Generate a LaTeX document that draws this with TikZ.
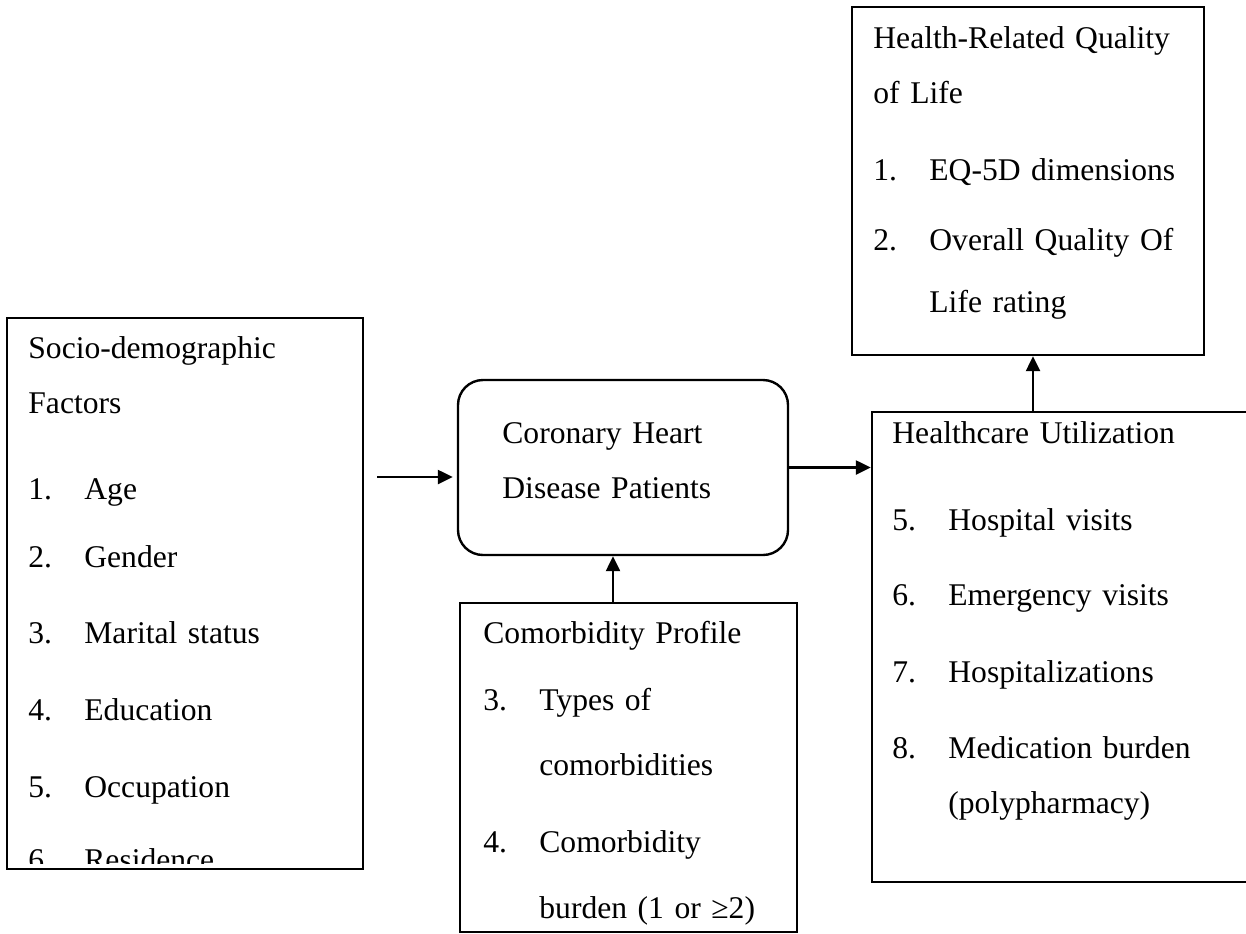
\documentclass[tikz,border=0pt]{standalone}
\usepackage{fontspec}
\setmainfont{Liberation Serif}
\usetikzlibrary{arrows.meta,positioning}
\newcommand{\itemno}[1]{\makebox[28pt][l]{#1}}

\begin{document}
\begin{tikzpicture}[
    x=0.5pt, y=-0.5pt,
    font=\fontsize{15.8}{27.5}\selectfont,
    box/.style={rectangle, draw=black, line width=1.2pt, inner sep=0pt},
    roundbox/.style={box, rounded corners=12.5pt},
    boxtext/.style={anchor=base west, inner sep=0pt, text width=#1, align=left},
    arrow/.style={line width=1.2pt, -{Triangle[length=7.5pt, width=7pt]}}
  ]
  \useasboundingbox (0,0) rectangle (1246,933);

  % Boxes
  \node (socio) [box, minimum width=178pt, minimum height=275.5pt] at (185,593.5) {};
  \node (chd) [roundbox, minimum width=165pt, minimum height=87.5pt] at (623,467.5) {};
  \node (como) [box, minimum width=168.5pt, minimum height=164.5pt] at (628.5,767.5) {};
  \node (health) [box, minimum width=194pt, minimum height=235pt] at (1066,647) {};
  \node (hrql) [box, minimum width=176pt, minimum height=174pt] at (1028,181) {};

  % Texts
  \begin{scope}
    \clip (socio.north west) rectangle ([yshift=3.5pt]socio.south east);
    \node (sociotext) [boxtext=165pt] at (28,358) {Socio-demographic\\ Factors\\[15.5pt]
      \itemno{1.}Age\\[6.5pt] \itemno{2.}Gender\\[10.5pt] \itemno{3.}Marital status\\[11pt]
      \itemno{4.}Education\\[11pt] \itemno{5.}Occupation\\[9pt] \itemno{6.}Residence};
  \end{scope}
  \node (chdtext) [boxtext=150pt] at (502,443) {Coronary Heart\\ Disease Patients};
  \node (comotext) [boxtext=160pt] at (483,643) {Comorbidity Profile\\[6pt]
    \itemno{3.}Types of\\[5pt] \itemno{}comorbidities\\[11pt]
    \itemno{4.}Comorbidity\\[5.5pt] \itemno{}burden (1 or ≥2)};
  \node (healthtext) [boxtext=170pt] at (892,443) {Healthcare Utilization\\[16pt]
    \itemno{5.}Hospital visits\\[10pt] \itemno{6.}Emergency visits\\[11pt]
    \itemno{7.}Hospitalizations\\[10.5pt] \itemno{8.}Medication burden\\
    \itemno{}(polypharmacy)};
  \node (hrqltext) [boxtext=170pt] at (873,48) {Health-Related Quality\\ of Life\\[11pt]
    \itemno{1.}EQ-5D dimensions\\[7.5pt] \itemno{2.}Overall Quality Of\\[3.5pt]
    \itemno{}Life rating};

  % Connections
  \coordinate (socout) at (377,477);
  \coordinate (comoout) at ([xshift=-7.75pt]como.north);
  \coordinate (qolin) at ([xshift=2.5pt]hrql.south);
  \draw [arrow, shorten >=2pt] (socout) -- (socout -| chd.west);
  \draw [arrow] (chd.east) -- (chd.east -| health.west);
  \draw [arrow] (comoout) -- (comoout |- chd.south);
  \draw [arrow] (qolin |- health.north) -- (qolin);
\end{tikzpicture}
\end{document}
